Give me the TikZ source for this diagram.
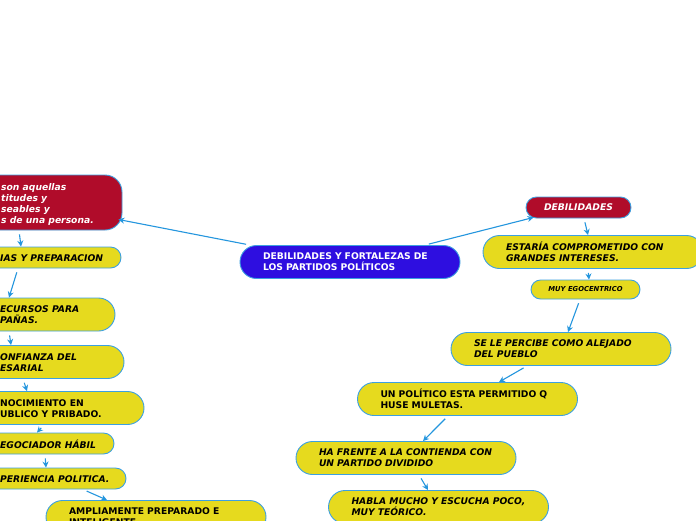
\documentclass[tikz,border=0pt]{standalone}
\usepackage{fontspec}
\setmainfont{DejaVu Sans}
\usetikzlibrary{arrows.meta}
\definecolor{ylw}{RGB}{230,218,30}
\definecolor{rd}{RGB}{176,12,42}
\definecolor{blu}{RGB}{46,14,224}
\definecolor{edge}{RGB}{60,160,225}
\definecolor{conncol}{RGB}{36,150,222}
\tikzset{
  txt/.style={font=\fontsize{9.2}{11}\selectfont\bfseries\itshape},
  txtup/.style={font=\fontsize{9.2}{11}\selectfont\bfseries},
  pill/.style={draw=edge, line width=0.9pt, fill=ylw, rounded corners=16.5pt,
     minimum width=220pt, minimum height=33pt, text width=174pt, inner xsep=23pt,
     inner ysep=0pt, align=left},
  shortpill/.style={draw=edge, line width=0.9pt, fill=ylw, rounded corners=10.5pt,
     minimum width=220pt, minimum height=21pt, inner sep=0pt},
  conn/.style={draw=conncol, line width=1.1pt, -{Stealth[length=6pt,width=6pt]}, shorten <=4pt},
  cliptxt/.style={anchor=west, align=left, inner sep=0pt}
}
\begin{document}
\begin{tikzpicture}[x=1pt,y=-1pt]
\useasboundingbox (0,0) rectangle (696,520);
\fill[white] (0,0) rectangle (696,520);
\begin{scope}
\clip (0,0) rectangle (696,520);
% central
\node[pill, fill=blu, text=white, txtup] (c) at (350,262) {DEBILIDADES Y FORTALEZAS DE\\LOS PARTIDOS POLÍTICOS};
% right branch
\node[draw=edge, line width=0.9pt, fill=rd, rounded corners=10.5pt, minimum width=105pt, minimum height=21pt, inner sep=0pt, text=white, txt] (deb) at (578.5,207.5) {DEBILIDADES};
\node[pill, txt] (est) at (593,252) {ESTARÍA COMPROMETIDO CON\\GRANDES INTERESES.};
\node[draw=edge, line width=0.9pt, fill=ylw, rounded corners=9.5pt, minimum width=109pt, minimum height=19pt, inner sep=0pt, font=\fontsize{6.8}{8}\selectfont\bfseries\itshape] (muy) at (585.5,289.5) {MUY EGOCENTRICO};
\node[pill, txt] (sel) at (561,349) {SE LE PERCIBE COMO ALEJADO\\DEL PUEBLO};
\node[pill, txtup] (unp) at (467.5,399) {UN POLÍTICO ESTA PERMITIDO Q\\HUSE MULETAS.};
\node[pill, txt] (haf) at (406,458) {HA FRENTE A LA CONTIENDA CON\\UN PARTIDO DIVIDIDO};
\node[pill, txt] (hab) at (438.5,507) {HABLA MUCHO Y ESCUCHA POCO,\\MUY TEÓRICO.};
% left branch
\node[draw=edge, line width=0.9pt, fill=rd, rounded corners=17pt, minimum width=220pt, minimum height=55pt, inner sep=0pt] (fort) at (12,202.5) {};
\node[cliptxt, text=white, txt] (fortt) at (1,204) {son aquellas\\titudes y\\seables y\\s de una persona.};
\node[shortpill] (ias) at (11,257.5) {};
\node[cliptxt, txt] (iast) at (0,258) {IAS Y PREPARACION};
\node[pill] (ecu) at (5,314.5) {};
\node[cliptxt, txt] (ecut) at (0,315) {ECURSOS PARA\\PAÑAS.};
\node[pill] (onf) at (14,362) {};
\node[cliptxt, txt] (onft) at (0,362.5) {ONFIANZA DEL\\ESARIAL};
\node[pill] (noc) at (34,408) {};
\node[cliptxt, txtup] (noct) at (0,408.5) {NOCIMIENTO EN\\UBLICO Y PRIBADO.};
\node[shortpill] (ego) at (4,443.5) {};
\node[cliptxt, txt] (egot) at (0,444) {EGOCIADOR HÁBIL};
\node[shortpill] (per) at (16,478.5) {};
\node[cliptxt, txt] (pert) at (0,479) {PERIENCIA POLITICA.};
\node[pill, txtup] (amp) at (156,517) {AMPLIAMENTE PREPARADO E\\INTELIGENTE};
% connectors
\draw[conn] ([xshift=-100pt]c.north) -- ([xshift=-4pt,yshift=-17pt]fort.east);
\draw[conn] ([xshift=75pt]c.north) -- ([xshift=-45pt,yshift=1pt]deb.south);
\draw[conn] ([xshift=5.5pt]deb.south) -- ([xshift=-5pt]est.north);
\draw[conn] ([xshift=-5pt]est.south) -- ([xshift=3.5pt]muy.north);
\draw[conn] ([xshift=-5.5pt]muy.south) -- ([xshift=7pt]sel.north);
\draw[conn] ([xshift=-34pt]sel.south) -- ([xshift=31.5pt]unp.north);
\draw[conn] ([xshift=-19.5pt]unp.south) -- ([xshift=17pt]haf.north);
\draw[conn] ([xshift=13pt]haf.south) -- ([xshift=-10.5pt]hab.north);
\draw[conn] ([xshift=7pt]fort.south) -- ([xshift=10pt]ias.north);
\draw[conn] ([xshift=7pt]ias.south) -- ([xshift=4pt]ecu.north);
\draw[conn] ([xshift=4pt]ecu.south) -- ([xshift=-3pt]onf.north);
\draw[conn] ([xshift=9pt]onf.south) -- ([xshift=-7pt]noc.north);
\draw[conn] ([xshift=10pt]noc.south) -- ([xshift=33pt]ego.north);
\draw[conn] ([xshift=41pt]ego.south) -- ([xshift=30pt]per.north);
\draw[conn] ([xshift=67pt]per.south) -- ([xshift=-49pt]amp.north);
\end{scope}
\end{tikzpicture}
\end{document}
